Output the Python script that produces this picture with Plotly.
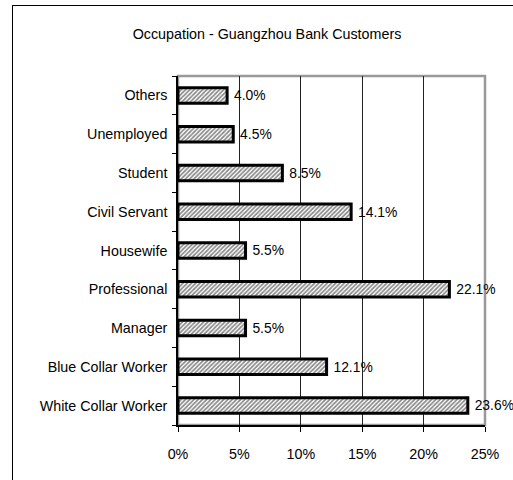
import plotly.graph_objects as go

categories = ["White Collar Worker", "Blue Collar Worker", "Manager", "Professional",
              "Housewife", "Civil Servant", "Student", "Unemployed", "Others"]
values = [23.6, 12.1, 5.5, 22.1, 5.5, 14.1, 8.5, 4.5, 4.0]
x_ticks = [0, 5, 10, 15, 20, 25]
x_tick_labels = ["0%", "5%", "10%", "15%", "20%", "25%"]
title_text = "Occupation - Guangzhou Bank Customers"

FONT = "Liberation Sans, Arial, sans-serif"
FS = 14.3

fig = go.Figure()
fig.add_trace(go.Bar(
    y=categories, x=values, orientation="h",
    marker=dict(color="white",
                line=dict(color="black", width=3),
                pattern=dict(shape="/", fgcolor="#111111", bgcolor="white",
                             size=3, solidity=0.55)),
    texttemplate=" %{x:.1f}%",
    textposition="outside", cliponaxis=False,
    textfont=dict(family=FONT, size=FS, color="black"),
    width=0.40,
))

W, H = 513, 480
L, R, T, B = 178, 28, 76, 55
pw, ph = W - L - R, H - T - B

def px_to_paper_x(px):
    return (px - L) / pw

def px_to_paper_y(py):
    return (H - B - py) / ph

bx0, bx1 = px_to_paper_x(12.5), px_to_paper_x(513)
by0, by1 = px_to_paper_y(480), px_to_paper_y(5.5)

shapes = [
    # outer chart border (left and top edges visible in window)
    dict(type="path", xref="paper", yref="paper",
         path=f"M {bx1},{by1} L {bx0},{by1} L {bx0},{by0}",
         line=dict(color="black", width=1), layer="above"),
    # plot area border (gray top/right)
    dict(type="rect", xref="paper", yref="paper", x0=0, x1=1, y0=0, y1=1,
         line=dict(color="#999999", width=2.5), layer="below"),
]

fig.update_layout(
    width=W, height=H,
    margin=dict(l=L, r=R, t=T, b=B),
    paper_bgcolor="white", plot_bgcolor="white",
    showlegend=False,
    font=dict(family=FONT, size=FS, color="black"),
    title=dict(text=title_text, x=267 / W, xanchor="center",
               y=1 - 34 / H, yanchor="middle",
               font=dict(family=FONT, size=FS, color="black")),
    shapes=shapes,
    xaxis=dict(range=[0, 25], tickvals=x_ticks, ticktext=x_tick_labels,
               showgrid=True, gridcolor="#222222", gridwidth=1,
               showline=True, linecolor="black", linewidth=1.5,
               ticks="outside", ticklen=5, tickcolor="black",
               ticklabelstandoff=10, zeroline=False,
               tickfont=dict(family=FONT, size=FS, color="black")),
    yaxis=dict(categoryorder="array", categoryarray=categories,
               showgrid=False, showline=True, linecolor="black", linewidth=1.5,
               ticks="outside", ticklen=4, tickcolor="black", tickson="boundaries",
               ticklabelstandoff=6,
               tickfont=dict(family=FONT, size=FS, color="black")),
    bargap=0.58,
)

post = (
    "document.body.style.margin='0';"
    "document.body.style.overflow='hidden';"
    "var d=document.createElement('div');"
    "d.style.cssText='position:absolute;left:12px;top:5px;width:501px;height:1px;background:#000;pointer-events:none;';"
    "document.body.appendChild(d);"
)

fig.write_html("out.html", config={"displayModeBar": False}, post_script=post)
